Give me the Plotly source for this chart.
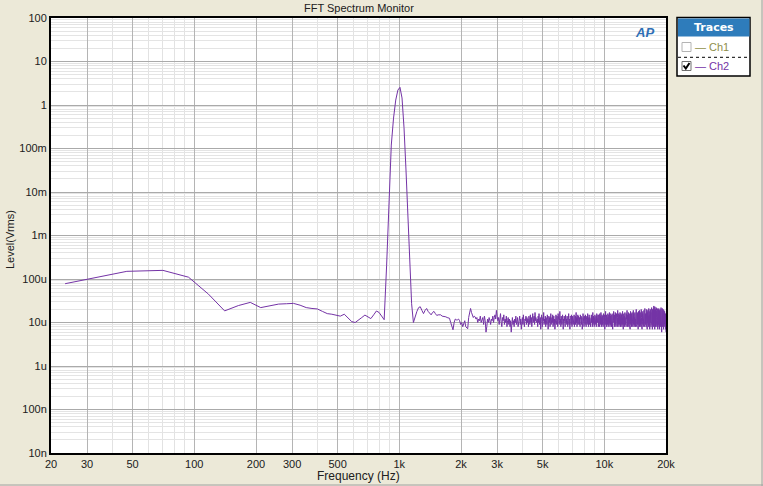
#!/usr/bin/env python3

import numpy as np
import plotly.graph_objects as go


#######################################
###              data               ###
#######################################
# FFT bin grid of the analyser
sample_rate = 48000
fft_length = 2048

# Ch2 level per FFT bin, in uVrms
# bins 1..50 : low end and the 1 kHz tone
level_tone_uV = [
    78, 150, 158, 110, 45, 18.5, 24.5, 29, 22, 24,
    26.5, 27, 27.5, 25, 22, 21, 20.5, 18, 16, 15.5,
    15, 14, 15.5, 13, 10.5, 10, 11.7, 13, 14.8, 13.5,
    12.3, 15, 18.4, 17, 14, 11.6, 200, 7300, 120000, 500000,
    1300000, 2200000, 2550000, 1450000, 300000, 32000, 2500, 220, 27, 10,
]
# bins 51..200
level_floor_lo_uV = [
    14, 18, 22, 23, 19, 16, 19, 21, 18, 16, 15, 17, 18, 16, 14.5, 15, 15, 15, 14, 14,
    13.7, 13.5, 13, 13, 12.5, 10, 8, 6.8, 10, 12, 11.5, 11.5, 12, 11, 9, 10, 8, 10, 11, 8,
    7.5, 7.2, 13, 18, 21, 17, 15, 13, 14, 13.5,
    12, 13, 10, 12, 11, 14, 10, 12, 13, 9, 14, 11, 6, 8, 12, 10, 13, 11, 9, 12,
    11, 14, 10, 13, 15, 12, 19, 14, 11, 13, 9, 12, 16, 10, 8, 13, 11, 15, 9, 12,
    10, 14, 8, 11, 13, 9, 12, 8, 11, 6, 10, 13, 9, 11, 8, 12, 10, 14, 9, 11,
    13, 8, 11, 10, 14, 9, 12, 7, 11, 13, 9, 15, 10, 8, 12, 11, 14, 9, 13, 10,
    12, 8, 14, 11, 9, 15, 10, 13, 8, 12, 16, 10, 11, 14, 9, 17, 11, 13, 10, 12,
]
# bins 201..400
level_floor_mid_uV = [
    12, 8, 14, 10, 16, 9, 11, 13, 7, 12, 15, 10, 8, 13, 11, 17, 9, 12, 10, 14,
    8, 13, 11, 9, 15, 12, 7, 11, 14, 10, 13, 8, 12, 16, 9, 11, 13, 10, 15, 8,
    11, 14, 9, 12, 7, 13, 10, 15, 11, 9, 14, 12, 8, 16, 10, 13, 9, 11, 18, 10,
    12, 8, 14, 11, 9, 13, 15, 10, 7, 12, 11, 14, 9, 13, 8, 15, 11, 10, 12, 9,
    14, 11, 8, 13, 10, 16, 9, 12, 11, 7, 14, 10, 13, 9, 15, 11, 8, 12, 14, 10,
    9, 13, 11, 15, 8, 12, 10, 14, 9, 11, 17, 10, 13, 8, 12, 11, 15, 9, 14, 10,
    12, 9, 13, 11, 8, 15, 10, 12, 14, 9, 11, 13, 7, 12, 10, 16, 9, 13, 11, 8,
    14, 10, 12, 9, 15, 11, 13, 8, 12, 10, 14, 9, 11, 16, 10, 13, 8, 12, 11, 15,
    9, 13, 10, 12, 8, 14, 11, 9, 15, 10, 13, 11, 8, 12, 17, 9, 11, 14, 10, 13,
    8, 12, 11, 15, 9, 13, 10, 12, 14, 8, 11, 16, 9, 13, 10, 12, 11, 15, 8, 14,
]
# bins 401..853
level_floor_hi_uV = [
    11, 15, 9, 13, 8, 16, 10, 12, 14, 9, 17, 11, 8, 13, 10, 15, 12, 9, 14, 11,
    8, 13, 16, 10, 12, 9, 15, 11, 7, 14, 10, 13, 18, 9, 12, 11, 15, 8, 13, 10,
    14, 9, 12, 16, 11, 8, 13, 10, 15, 9, 12, 17, 10, 13, 8, 11, 14, 9, 16, 12,
    10, 13, 8, 15, 11, 9, 14, 12, 7, 16, 10, 13, 11, 18, 9, 12, 14, 8, 15, 10,
    12, 9, 17, 11, 13, 8, 14, 10, 16, 12, 9, 15, 11, 8, 13, 19, 10, 12, 9, 14,
    11, 16, 8, 13, 10, 15, 12, 9, 17, 11, 14, 8, 12, 10, 16, 9, 13, 11, 15, 8,
    14, 10, 12, 18, 9, 13, 11, 7, 15, 10, 12, 16, 9, 14, 11, 8, 13, 17, 10, 12,
    9, 15, 11, 13, 8, 16, 10, 12, 14, 9, 19, 11, 13, 8, 15, 10, 12, 9, 17, 11,
    14, 8, 13, 10, 16, 12, 9, 15, 11, 7, 14, 10, 18, 12, 9, 13, 11, 16, 8, 14,
    10, 13, 17, 9, 12, 11, 15, 8, 14, 10, 19, 11, 13, 9, 16, 12, 8, 15, 10, 13,
    11, 17, 9, 14, 12, 8, 16, 10, 13, 11, 20, 9, 15, 12, 8, 14, 10, 17, 11, 13,
    9, 16, 12, 7, 15, 10, 18, 11, 13, 9, 14, 12, 19, 8, 15, 10, 13, 11, 17, 9,
    14, 12, 8, 16, 10, 20, 11, 13, 9, 15, 12, 7, 18, 10, 14, 11, 16, 9, 13, 12,
    8, 17, 11, 14, 10, 19, 12, 9, 15, 11, 13, 8, 21, 10, 14, 12, 9, 16, 11, 13,
    10, 18, 8, 15, 12, 11, 20, 9, 14, 13, 7, 17, 11, 15, 10, 19, 12, 9, 16, 11,
    14, 8, 21, 10, 13, 12, 17, 9, 15, 11, 7, 18, 13, 10, 20, 12, 9, 16, 11, 14,
    8, 19, 12, 15, 10, 22, 11, 13, 9, 17, 14, 7, 20, 11, 15, 10, 18, 12, 9, 21,
    11, 14, 8, 24, 10, 16, 12, 19, 9, 15, 13, 7, 23, 11, 17, 10, 14, 20, 8, 13,
    12, 18, 9, 22, 11, 15, 10, 19, 13, 8, 17, 12, 21, 9, 14, 11, 16, 7, 20, 10,
    15, 12, 18, 9, 13, 11, 21, 8, 16, 10, 14, 19, 11, 7, 17, 12, 15, 9, 20, 10,
    13, 11, 18, 8, 15, 12, 22, 9, 14, 10, 17, 11, 6, 19, 13, 9, 16, 11, 21, 10,
    14, 8, 18, 12, 15, 9, 20, 11, 13, 7, 17, 10, 19, 12, 8, 16, 11, 14, 9, 18,
    10, 15, 12, 8, 17, 11, 13, 7, 16, 9, 12, 7, 6,
]

x_tick_vals = [20, 30, 50, 100, 200, 300, 500, 1000, 2000, 3000, 5000, 10000, 20000]
x_tick_text = ["20", "30", "50", "100", "200", "300", "500", "1k", "2k", "3k", "5k", "10k", "20k"]
y_tick_vals = [1e2, 1e1, 1e0, 1e-1, 1e-2, 1e-3, 1e-4, 1e-5, 1e-6, 1e-7, 1e-8]
y_tick_text = ["100", "10", "1", "100m", "10m", "1m", "100u", "10u", "1u", "100n", "10n"]


#######################################
###            helpers              ###
#######################################
W, H = 763, 486
L, R, T, B = 51, 97, 18, 33


def px(x):
    return (x - L) / (W - L - R)


def py(y):
    return (H - B - y) / (H - T - B)


level_uV = np.array(level_tone_uV + level_floor_lo_uV + level_floor_mid_uV + level_floor_hi_uV, dtype=float)
freq = np.arange(1, len(level_uV) + 1) * sample_rate / fft_length

# minor grid positions (multiples 2..9 of each decade, minus the major ones)
x_minor = [m * 10 ** d for d in range(1, 5) for m in range(2, 10)]
x_minor = [v for v in x_minor if 20 <= v <= 20000 and v not in x_tick_vals]
y_minor = [m * 10.0 ** d for d in range(-8, 2) for m in range(2, 10)]

font = "Liberation Sans, Arial, sans-serif"
ch2_color = "#7433A6"
ch1_color = "#8E8E4A"


#######################################
###            plotting             ###
#######################################
fig = go.Figure()
fig.add_trace(go.Scatter(
    x=freq, y=level_uV * 1e-6,
    mode="lines",
    line=dict(color=ch2_color, width=1),
    name="Ch2",
    hoverinfo="skip",
))

shapes = [
    # window frame edges
    dict(type="line", xref="paper", yref="paper", x0=px(0), x1=px(W), y0=py(485), y1=py(485),
         line=dict(color="#A0A0A0", width=1)),
    dict(type="line", xref="paper", yref="paper", x0=px(762), x1=px(762), y0=py(0), y1=py(H),
         line=dict(color="#A0A0A0", width=1)),
    # traces panel
    dict(type="rect", xref="paper", yref="paper", x0=px(677), x1=px(750), y0=py(17.5), y1=py(76),
         fillcolor="white", line=dict(color="black", width=1.5)),
    dict(type="rect", xref="paper", yref="paper", x0=px(678), x1=px(749.5), y0=py(18.5), y1=py(36.5),
         fillcolor="#2E7CBB", line=dict(width=0)),
    dict(type="line", xref="paper", yref="paper", x0=px(678), x1=px(749.5), y0=py(57.3), y1=py(57.3),
         line=dict(color="black", width=1, dash="dot")),
    dict(type="rect", xref="paper", yref="paper", x0=px(682), x1=px(691), y0=py(42.5), y1=py(51.5),
         fillcolor="white", line=dict(color="#B4B4B4", width=1)),
    dict(type="rect", xref="paper", yref="paper", x0=px(682), x1=px(691), y0=py(61.5), y1=py(70.5),
         fillcolor="white", line=dict(color="#707070", width=1)),
    dict(type="path", xref="paper", yref="paper",
         path="M {} {} L {} {} L {} {}".format(px(683.5), py(65.5), px(685.8), py(68.5), px(689.5), py(63)),
         line=dict(color="black", width=2)),
]

annotations = [
    dict(text="FFT Spectrum Monitor", x=px(359), y=py(8.5), xref="paper", yref="paper",
         showarrow=False, font=dict(size=11, color="#202020", family=font), xanchor="center", yanchor="middle"),
    dict(text="Frequency (Hz)", x=px(358), y=py(476), xref="paper", yref="paper",
         showarrow=False, font=dict(size=12, color="#202020", family=font), xanchor="center", yanchor="middle"),
    dict(text="Level(Vrms)", x=px(10), y=py(240), xref="paper", yref="paper", textangle=-90,
         showarrow=False, font=dict(size=11, color="#202020", family=font), xanchor="center", yanchor="middle"),
    dict(text="<b><i>AP</i></b>", x=px(644), y=py(33), xref="paper", yref="paper",
         showarrow=False, font=dict(size=13, color="#2F6FB5", family=font), xanchor="center", yanchor="middle"),
    dict(text="<b>Traces</b>", x=px(713.5), y=py(27.5), xref="paper", yref="paper",
         showarrow=False, font=dict(size=11, color="white", family="DejaVu Sans, sans-serif"),
         xanchor="center", yanchor="middle"),
    dict(text="— Ch1", x=px(693), y=py(47), xref="paper", yref="paper",
         showarrow=False, font=dict(size=11, color=ch1_color, family=font), xanchor="left", yanchor="middle"),
    dict(text="— Ch2", x=px(693), y=py(66), xref="paper", yref="paper",
         showarrow=False, font=dict(size=11, color=ch2_color, family=font), xanchor="left", yanchor="middle"),
]

fig.update_layout(
    width=W, height=H,
    margin=dict(l=L, r=R, t=T, b=B, pad=0),
    paper_bgcolor="#ECE9D8",
    plot_bgcolor="white",
    showlegend=False,
    font=dict(family=font, size=11, color="#202020"),
    shapes=shapes,
    annotations=annotations,
)
fig.update_xaxes(
    type="log", range=[np.log10(20), np.log10(20000)],
    tickmode="array", tickvals=x_tick_vals, ticktext=x_tick_text,
    ticks="", showgrid=True, gridcolor="#B4B4B4", gridwidth=1,
    minor=dict(tickmode="array", tickvals=x_minor, showgrid=True, gridcolor="#E2E2E2", ticks=""),
    showline=True, linecolor="black", linewidth=2, mirror=True,
    zeroline=False, tickfont=dict(size=11),
)
fig.update_yaxes(
    type="log", range=[-8, 2],
    tickmode="array", tickvals=y_tick_vals, ticktext=y_tick_text,
    ticks="", showgrid=True, gridcolor="#AAAAAA", gridwidth=1,
    minor=dict(tickmode="array", tickvals=y_minor, showgrid=True, gridcolor="#E4E4E4", ticks=""),
    showline=True, linecolor="black", linewidth=2, mirror=True,
    zeroline=False, tickfont=dict(size=11),
)

# drop the page margin so the figure sits at the window's top-left corner
fig.write_html(
    "out.html",
    config={"displayModeBar": False},
    post_script="document.body.style.margin='0';document.body.style.overflow='hidden';",
)
